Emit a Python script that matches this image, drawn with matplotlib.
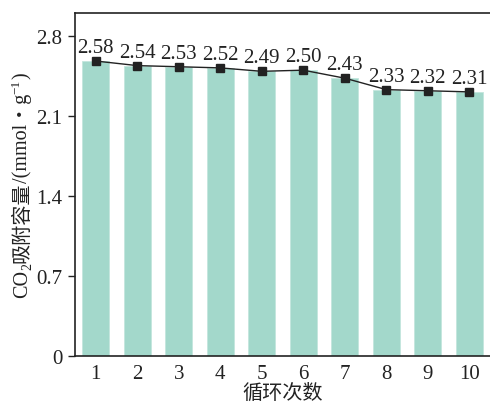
import matplotlib
matplotlib.use("Agg")
import matplotlib.pyplot as plt
import numpy as np

cycles = [1, 2, 3, 4, 5, 6, 7, 8, 9, 10]
capacity = [2.58, 2.54, 2.53, 2.52, 2.49, 2.50, 2.43, 2.33, 2.32, 2.31]
y_ticks = [0, 0.7, 1.4, 2.1, 2.8]
y_tick_labels = ['0', '0.7', '1.4', '2.1', '2.8']

# y label pieces: (text, fontsize, shift across the baseline in px)
ylabel_parts = [('CO', 14.5, 0), ('2', 10, 4), ('吸附容量', 14.5, 0),
                ('/(mmol・g', 14.5, 0), ('−1', 9.5, -8), (')', 14.5, 0)]

plt.rcParams['font.family'] = ['Liberation Serif', 'Noto Sans CJK SC']

fig = plt.figure(figsize=(4.9, 4.06), dpi=100)
ax = fig.add_axes([0.153, 0.1207, 0.847, 0.8448])
ink = '#222222'

ax.bar(cycles, capacity, width=0.64, color='#a3d8cb', edgecolor='#c4e6dd', linewidth=0.6, zorder=1)
ax.plot(cycles, capacity, color=ink, linewidth=1.0, marker='s', markersize=5.5, zorder=3)

for x, v in zip(cycles, capacity):
    ax.text(x, v + 0.035, f"{v:.2f}", ha='center', va='bottom', fontsize=15, color=ink)

ax.set_xlim(0.5, 10.5)
ax.set_ylim(0, 3.0)
ax.set_xticks(cycles)
ax.set_yticks(y_ticks)
ax.set_yticklabels(y_tick_labels)
ax.tick_params(axis='y', direction='out', length=5, width=1, labelsize=15, colors=ink, pad=4)
ax.tick_params(axis='x', length=0, labelsize=15, colors=ink, pad=6)

for side in ['left', 'bottom', 'top']:
    ax.spines[side].set_linewidth(1.2)
    ax.spines[side].set_color(ink)
ax.spines['right'].set_visible(False)

ax.set_xlabel('循环次数', fontsize=14.5, labelpad=0, color=ink)

# y label built from pieces, rotated, so CJK and sub/superscripts mix
renderer = fig.canvas.get_renderer()
W, H = fig.bbox.width, fig.bbox.height
base_x = 27
texts = []
for s, fs, dx in ylabel_parts:
    t = fig.text(0, 0, s, fontsize=fs, rotation=90, rotation_mode='anchor',
                 ha='left', va='baseline', color=ink)
    texts.append((t, dx))
lengths = [t.get_window_extent(renderer).height for t, _ in texts]
total = sum(lengths)
ax_bb = ax.get_window_extent(renderer)
y_cur = (ax_bb.y0 + ax_bb.y1) / 2 - total / 2
for (t, dx), ln in zip(texts, lengths):
    t.set_position(((base_x + dx) / W, y_cur / H))
    y_cur += ln

fig.savefig('out.png', dpi=100)
